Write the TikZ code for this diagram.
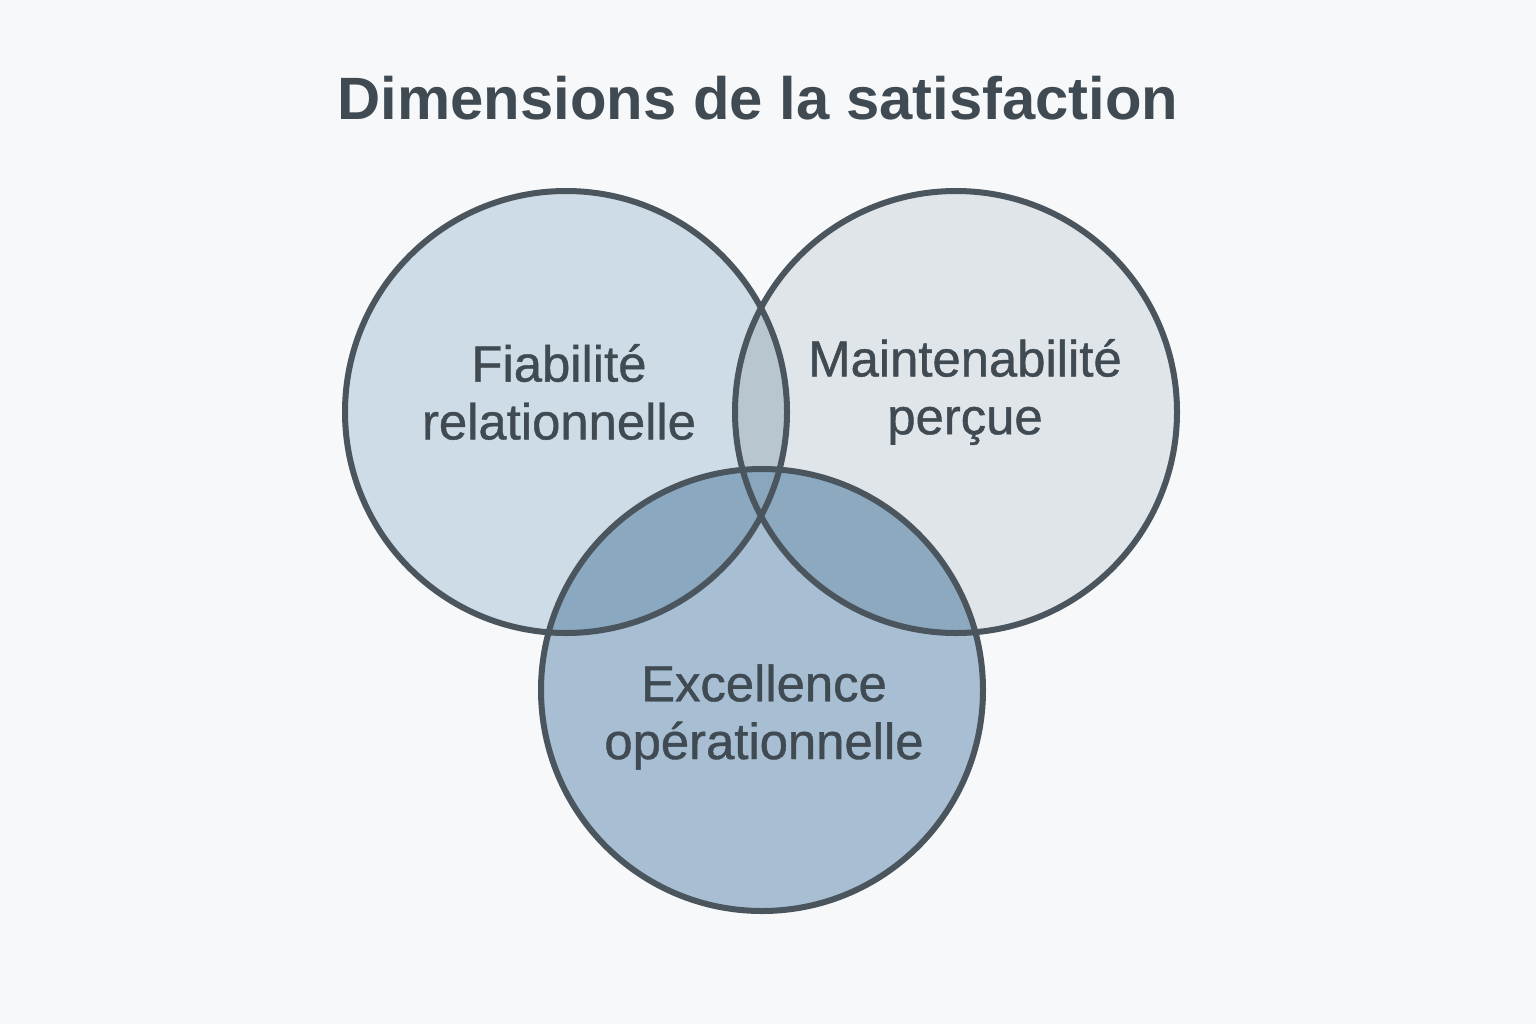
\documentclass[tikz,border=0pt]{standalone}
\usepackage{fontspec}
\setmainfont{Liberation Sans}
\newfontfamily\labfont{Liberation Sans}[FakeBold=0.8]
\usepackage{tikz}
\definecolor{bgcol}{HTML}{F7F8F9}
\definecolor{linecol}{HTML}{4A555E}
\definecolor{txtcol}{HTML}{3F4A52}
\definecolor{fiacol}{HTML}{CEDCE7}
\definecolor{maicol}{HTML}{E0E5E9}
\definecolor{exccol}{HTML}{A8BED2}
\definecolor{fiamaicol}{HTML}{B8C6D0}
\definecolor{fiaexccol}{HTML}{8AA8C0}
\definecolor{maiexccol}{HTML}{8CA9C0}
\definecolor{allcol}{HTML}{8AA6BD}
\def\rad{221bp}
\tikzset{
	ring/.style={line width=6bp, draw=linecol},
	lab/.style={text=txtcol, align=center, font=\labfont\fontsize{51}{58}\selectfont}
}

\begin{document}
\begin{tikzpicture}[x=1bp, y=-1bp]
			%%%%% START %%%%%
			
			\useasboundingbox (0, 0) rectangle (1536, 1024);
			\fill[bgcol] (0, 0) rectangle (1536, 1024);
			
			\coordinate (fia) at (566, 412);
			\coordinate (mai) at (956, 412);
			\coordinate (exc) at (762, 690);
			
			\node[text=txtcol, anchor=base, font=\bfseries\fontsize{60}{72}\selectfont] (title) at (758, 119) {Dimensions de la satisfaction};
			
			\fill[fiacol] (fia) circle (\rad);
			\fill[maicol] (mai) circle (\rad);
			\fill[exccol] (exc) circle (\rad);
			
			\begin{scope}
				\clip (mai) circle (\rad);
				\fill[maiexccol] (exc) circle (\rad);
			\end{scope}
			\begin{scope}
				\clip (fia) circle (\rad);
				\fill[fiamaicol] (mai) circle (\rad);
				\fill[fiaexccol] (exc) circle (\rad);
				\clip (mai) circle (\rad);
				\fill[allcol] (exc) circle (\rad);
			\end{scope}
			
			\draw[ring] (fia) circle (\rad);
			\draw[ring] (mai) circle (\rad);
			\draw[ring] (exc) circle (\rad);
			
			\node[lab] (fiatxt) at (559, 392) {Fiabilité\\relationnelle};
			\node[lab] (maitxt) at (965, 392) {Maintenabilité\\perçue};
			\node[lab] (exctxt) at (764, 717) {Excellence\\opérationnelle};
			
			%%%%% END %%%%%
\end{tikzpicture}
\end{document}
